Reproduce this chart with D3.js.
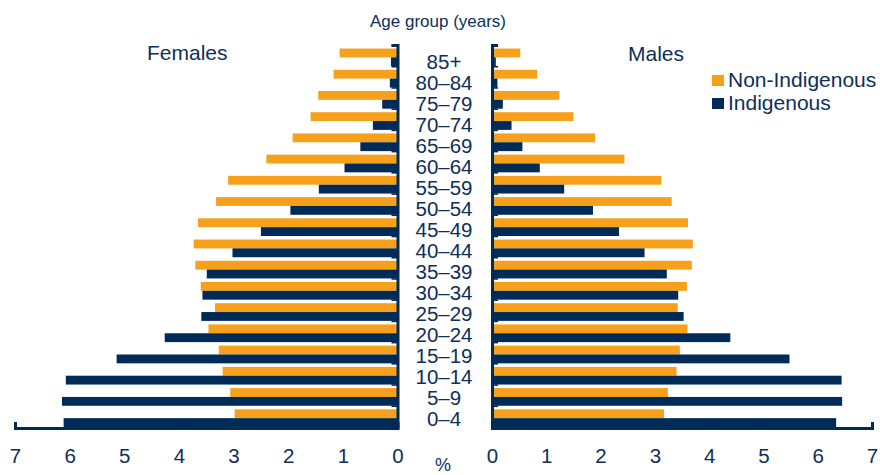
<!DOCTYPE html>
<html>
<head>
<meta charset="utf-8">
<script src="https://cdn.jsdelivr.net/npm/d3@7.9.0/dist/d3.min.js"></script>
<style>
  body { margin: 0; background: #fff; }
  svg { display: block; font-family: "Liberation Sans", Arial, sans-serif; }
  text { fill: #0d2f5a; }
</style>
</head>
<body>
<svg width="880" height="475"></svg>
<script>
// age groups, youngest first
const ages = ['0–4', '5–9', '10–14', '15–19', '20–24', '25–29', '30–34', '35–39', '40–44',
  '45–49', '50–54', '55–59', '60–64', '65–69', '70–74', '75–79', '80–84', '85+'];

// per cent of population
const femaleNonIndig = [2.98, 3.06, 3.20, 3.27, 3.46, 3.34, 3.60, 3.70, 3.73, 3.65, 3.32, 3.10, 2.40, 1.92, 1.59, 1.45, 1.17, 1.06];
const femaleIndig = [6.11, 6.14, 6.07, 5.14, 4.26, 3.59, 3.57, 3.49, 3.02, 2.50, 1.96, 1.44, 0.97, 0.68, 0.45, 0.28, 0.14, 0.12];
const maleNonIndig = [3.17, 3.24, 3.40, 3.46, 3.60, 3.42, 3.59, 3.68, 3.70, 3.61, 3.31, 3.12, 2.44, 1.90, 1.50, 1.24, 0.83, 0.52];
const maleIndig = [6.34, 6.45, 6.44, 5.48, 4.39, 3.53, 3.43, 3.22, 2.81, 2.34, 1.86, 1.33, 0.88, 0.56, 0.36, 0.20, 0.10, 0.07];

const seriesNames = ['Non-Indigenous', 'Indigenous'];
const xTicks = [0, 1, 2, 3, 4, 5, 6, 7];

const orange = '#f6a01b';
const navy = '#002b56';
const ink = '#0d2f5a';

const svg = d3.select('svg');

const plotTop = 45, plotBottom = 427;
const xLeft = d3.scaleLinear().domain([0, 7]).range([397.5, 15]);
const xRight = d3.scaleLinear().domain([0, 7]).range([492, 872]);

// top of chart = oldest group
const y = d3.scaleBand().domain(ages.slice().reverse()).range([plotTop, plotBottom]);
const sub = d3.scaleBand().domain(seriesNames).range([0, y.bandwidth()])
  .paddingOuter(0.2).align(1);
const color = d3.scaleOrdinal().domain(seriesNames).range([orange, navy]);

function rows(nonIndig, indig) {
  return ages.flatMap((a, i) => [
    { age: a, series: 'Non-Indigenous', value: nonIndig[i] },
    { age: a, series: 'Indigenous', value: indig[i] }
  ]);
}

// Females (left)
svg.append('g').selectAll('rect')
  .data(rows(femaleNonIndig, femaleIndig))
  .join('rect')
  .attr('x', (d) => xLeft(d.value))
  .attr('width', (d) => xLeft(0) - xLeft(d.value))
  .attr('y', (d) => y(d.age) + sub(d.series))
  .attr('height', sub.bandwidth())
  .attr('fill', (d) => color(d.series));

// Males (right)
svg.append('g').selectAll('rect')
  .data(rows(maleNonIndig, maleIndig))
  .join('rect')
  .attr('x', xRight(0))
  .attr('width', (d) => xRight(d.value) - xRight(0))
  .attr('y', (d) => y(d.age) + sub(d.series))
  .attr('height', sub.bandwidth())
  .attr('fill', (d) => color(d.series));

// vertical axes with ticks on the group boundaries
const yEdge = d3.scaleLinear().domain([0, ages.length]).range([plotBottom, plotTop]);

function styleAxis(g) {
  g.select('.domain').attr('stroke', navy).attr('stroke-width', 3);
  g.selectAll('.tick line').attr('stroke', navy).attr('stroke-width', 1.6);
  g.selectAll('.tick text').attr('fill', ink).style('font-size', '20.5px');
}

svg.append('g')
  .attr('transform', `translate(${xLeft(0)},0)`)
  .call(d3.axisLeft(yEdge).ticks(ages.length).tickFormat('').tickSize(6).tickSizeOuter(6))
  .call(styleAxis);

svg.append('g')
  .attr('transform', `translate(${xRight(0)},0)`)
  .call(d3.axisRight(yEdge).ticks(ages.length).tickFormat('').tickSize(6).tickSizeOuter(6))
  .call(styleAxis);

// bottom axes
svg.append('g')
  .attr('transform', `translate(0,${plotBottom + 1})`)
  .call(d3.axisBottom(xLeft).tickValues(xTicks).tickFormat(d3.format('d'))
    .tickSize(-5).tickSizeOuter(-6).tickPadding(20))
  .call(styleAxis);

svg.append('g')
  .attr('transform', `translate(0,${plotBottom + 1})`)
  .call(d3.axisBottom(xRight).tickValues(xTicks).tickFormat(d3.format('d'))
    .tickSize(-5).tickSizeOuter(-6).tickPadding(20))
  .call(styleAxis);

svg.selectAll('g[font-family]').attr('font-family', null);

// age labels in the middle
const yLabel = d3.scalePoint().domain(ages).range([419, 62]);
svg.append('g').selectAll('text')
  .data(ages)
  .join('text')
  .attr('x', 444)
  .attr('y', (d) => yLabel(d))
  .attr('dy', '0.35em')
  .attr('text-anchor', 'middle')
  .style('font-size', '20.5px')
  .text((d) => d);

svg.append('text')
  .attr('x', 438).attr('y', 27)
  .attr('text-anchor', 'middle')
  .style('font-size', '17px')
  .text('Age group (years)');

svg.append('text')
  .attr('x', 147).attr('y', 60)
  .style('font-size', '21px')
  .text('Females');

svg.append('text')
  .attr('x', 628).attr('y', 61)
  .style('font-size', '21px')
  .text('Males');

svg.append('text')
  .attr('x', 443).attr('y', 471)
  .attr('text-anchor', 'middle')
  .style('font-size', '18px')
  .text('%');

// legend
const legend = svg.append('g').attr('transform', 'translate(712,75)');
const item = legend.selectAll('g')
  .data(seriesNames)
  .join('g')
  .attr('transform', (d, i) => `translate(0,${i * 23})`);
item.append('rect')
  .attr('width', 12).attr('height', 11)
  .attr('fill', (d) => color(d));
item.append('text')
  .attr('x', 16).attr('y', 12)
  .style('font-size', '21px')
  .text((d) => d);
</script>
</body>
</html>
